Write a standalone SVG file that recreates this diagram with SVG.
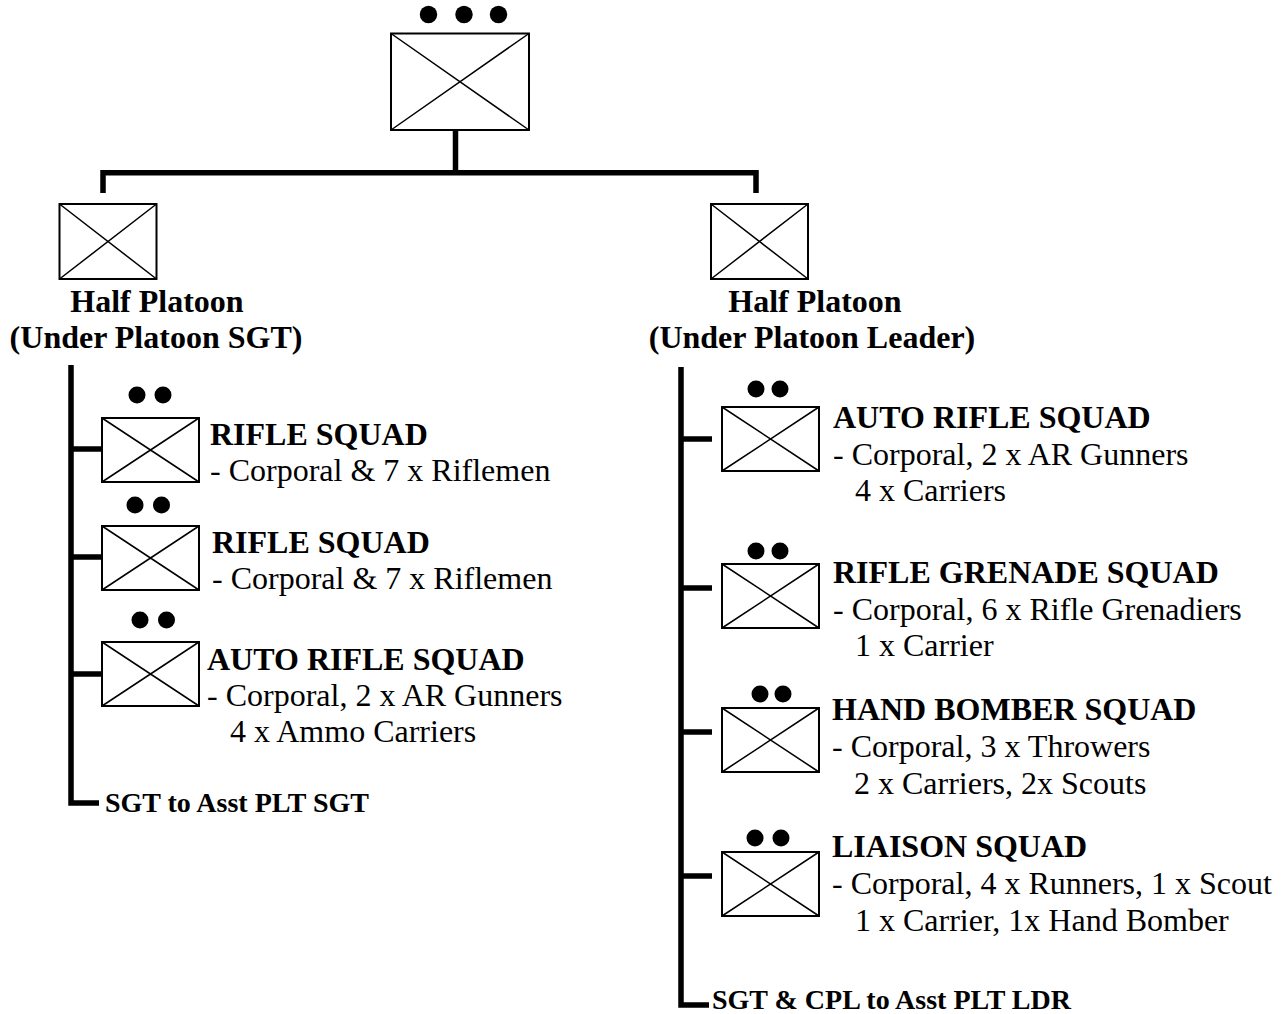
<svg xmlns="http://www.w3.org/2000/svg" width="1287" height="1014" viewBox="0 0 1287 1014">
<style>
.box{fill:#fff;stroke:#000;stroke-width:2}
.x{stroke:#000;stroke-width:1.5;fill:none}
.dot{fill:#000}
.con{stroke:#000;stroke-width:5.5;fill:none;stroke-linejoin:miter;stroke-linecap:butt}
.t{font-family:"Liberation Serif","Times New Roman",serif;font-size:32px;fill:#000}
.b{font-weight:bold}
.s{font-family:"Liberation Serif","Times New Roman",serif;font-size:28px;font-weight:bold;fill:#000}
.m{text-anchor:middle}
</style>
<defs>
<symbol id="sq" viewBox="0 0 97 64" overflow="visible">
<rect class="box" x="0" y="0" width="97" height="64"/>
<path class="x" d="M0,0L97,64M97,0L0,64"/>
</symbol>
</defs>
<g id="connectors">
<path class="con" d="M455.5,130V172.7"/>
<path class="con" d="M103,193V172.7H756V193"/>
<path class="con" d="M71,365V803H99"/>
<path class="con" d="M71,449H102M71,557H102M71,674H102"/>
<path class="con" d="M681,367V1005H709"/>
<path class="con" d="M681,439H712M681,588H712M681,732H712M681,876H712"/>
</g>
<g id="platoon">
<rect class="box" x="391" y="33.5" width="138" height="96.5"/>
<path class="x" d="M391,33.5L529,130M529,33.5L391,130"/>
<circle class="dot" cx="428.5" cy="14.5" r="8.7"/>
<circle class="dot" cx="464" cy="14.5" r="8.7"/>
<circle class="dot" cx="498.5" cy="14.5" r="8.7"/>
</g>
<g id="half-left">
<rect class="box" x="59.5" y="204" width="97" height="75"/>
<path class="x" d="M59.5,204L156.5,279M156.5,204L59.5,279"/>
<text class="t b m" x="157" y="312">Half Platoon</text>
<text class="t b m" x="156" y="348">(Under Platoon SGT)</text>
</g>
<g id="half-right">
<rect class="box" x="711" y="204" width="97" height="75"/>
<path class="x" d="M711,204L808,279M808,204L711,279"/>
<text class="t b m" x="815" y="312">Half Platoon</text>
<text class="t b m" x="812" y="348">(Under Platoon Leader)</text>
</g>
<g id="l-rifle1">
<use href="#sq" x="102" y="418" width="97" height="64"/>
<circle class="dot" cx="137" cy="395" r="8.5"/>
<circle class="dot" cx="163" cy="395" r="8.5"/>
<text class="t b" x="210" y="445">RIFLE SQUAD</text>
<text class="t" x="210" y="481">- Corporal &amp; 7 x Riflemen</text>
</g>
<g id="l-rifle2">
<use href="#sq" x="102" y="526" width="97" height="64"/>
<circle class="dot" cx="135" cy="505" r="8.5"/>
<circle class="dot" cx="161.5" cy="505" r="8.5"/>
<text class="t b" x="212" y="553">RIFLE SQUAD</text>
<text class="t" x="212" y="589">- Corporal &amp; 7 x Riflemen</text>
</g>
<g id="l-auto">
<use href="#sq" x="102" y="642" width="97" height="64"/>
<circle class="dot" cx="140" cy="620" r="8.5"/>
<circle class="dot" cx="166.5" cy="620" r="8.5"/>
<text class="t b" x="207" y="670">AUTO RIFLE SQUAD</text>
<text class="t" x="207" y="706">- Corporal, 2 x AR Gunners</text>
<text class="t" x="230" y="742">4 x Ammo Carriers</text>
</g>
<g id="l-note">
<text class="s" x="105" y="812">SGT to Asst PLT SGT</text>
</g>
<g id="r-auto">
<use href="#sq" x="722" y="407" width="97" height="64"/>
<circle class="dot" cx="756" cy="389" r="8.5"/>
<circle class="dot" cx="780" cy="389" r="8.5"/>
<text class="t b" x="833" y="428">AUTO RIFLE SQUAD</text>
<text class="t" x="833" y="465">- Corporal, 2 x AR Gunners</text>
<text class="t" x="855" y="501">4 x Carriers</text>
</g>
<g id="r-grenade">
<use href="#sq" x="722" y="564" width="97" height="64"/>
<circle class="dot" cx="756" cy="551" r="8.5"/>
<circle class="dot" cx="780" cy="551" r="8.5"/>
<text class="t b" x="833" y="583">RIFLE GRENADE SQUAD</text>
<text class="t" x="833" y="620">- Corporal, 6 x Rifle Grenadiers</text>
<text class="t" x="855" y="656">1 x Carrier</text>
</g>
<g id="r-bomber">
<use href="#sq" x="722" y="708" width="97" height="64"/>
<circle class="dot" cx="760" cy="694" r="8.5"/>
<circle class="dot" cx="783" cy="694" r="8.5"/>
<text class="t b" x="832" y="720">HAND BOMBER SQUAD</text>
<text class="t" x="832" y="757">- Corporal, 3 x Throwers</text>
<text class="t" x="854" y="794">2 x Carriers, 2x Scouts</text>
</g>
<g id="r-liaison">
<use href="#sq" x="722" y="852" width="97" height="64"/>
<circle class="dot" cx="755" cy="838" r="8.5"/>
<circle class="dot" cx="781" cy="838" r="8.5"/>
<text class="t b" x="832" y="857">LIAISON SQUAD</text>
<text class="t" x="832" y="894">- Corporal, 4 x Runners, 1 x Scout</text>
<text class="t" x="855" y="931">1 x Carrier, 1x Hand Bomber</text>
</g>
<g id="r-note">
<text class="s" x="712" y="1009">SGT &amp; CPL to Asst PLT LDR</text>
</g>
</svg>
